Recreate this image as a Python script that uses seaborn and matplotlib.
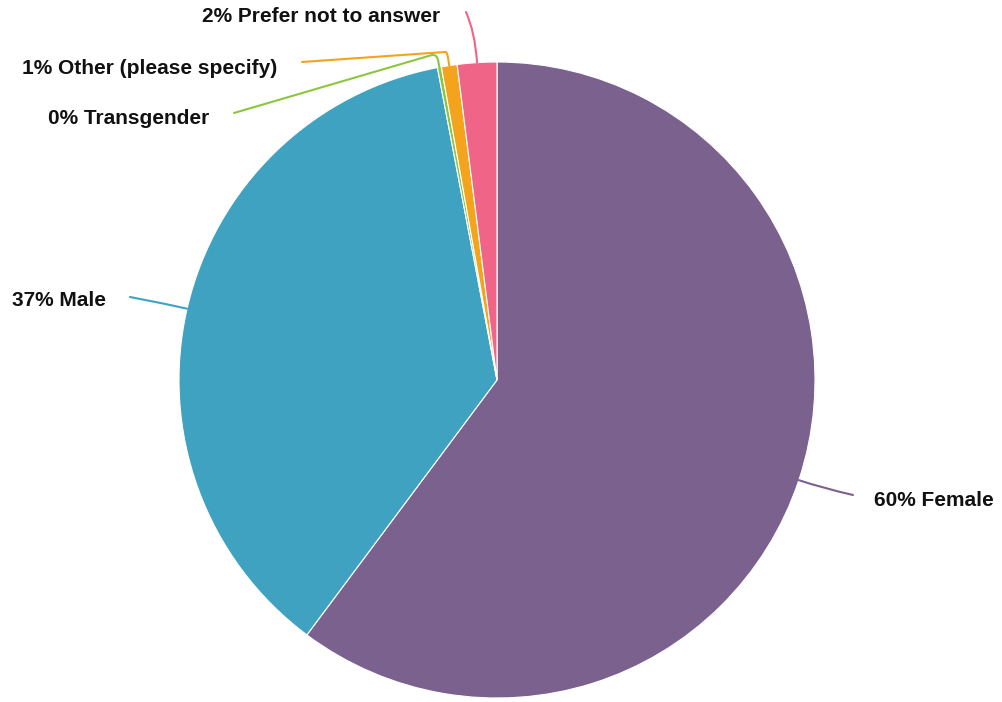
import numpy as np
import matplotlib
matplotlib.use("Agg")
import matplotlib.pyplot as plt
from matplotlib.path import Path
from matplotlib.patches import PathPatch
import seaborn as sns

# slice data (clockwise from 12 o'clock)
categories = ["Female", "Male", "Transgender", "Other (please specify)", "Prefer not to answer"]
shares = [60.2, 36.8, 0.2, 0.8, 2.0]
shown_pct = [60, 37, 0, 1, 2]
colors = ["#7b618e", "#40a2c1", "#8cc63e", "#f4a31c", "#ef6487"]

sns.set_theme(style="white")
plt.rcParams["font.family"] = ["Liberation Sans", "DejaVu Sans"]

fig = plt.figure(figsize=(10.02, 7.02), dpi=100)
ax = fig.add_axes([0, 0, 1, 1])

H = 702
cx, cy, R = 497, H - 380, 318
wedges, _ = ax.pie(shares, colors=colors, startangle=90, counterclock=False,
                   center=(cx, cy), radius=R, frame=True,
                   wedgeprops=dict(edgecolor="white", linewidth=0.8))
ax.set_xlim(0, 1002)
ax.set_ylim(0, 702)
ax.set_aspect("equal")
ax.axis("off")

# label anchors in pixel coords: (line end, text x, text y, ha, radial ext)
label_pos = [
    ((853, 495), 874, 500, "left", 25),
    ((130, 297), 12, 300, "left", 20),
    ((432, 55), 48, 118, "left", 8),
    ((445, 52), 22, 69, "left", 10),
    ((466, 12), 202, 17, "left", 30),
]
line_end_extra = [None, None, (234, 113), (302, 62), None]

for i, w in enumerate(wedges):
    mid = np.deg2rad((w.theta1 + w.theta2) / 2)
    ux, uy = np.cos(mid), np.sin(mid)
    p0 = (cx + R * ux, cy + R * uy)
    (ex, ey), tx, ty, ha, ext = label_pos[i]
    p1 = (cx + (R + ext) * ux, cy + (R + ext) * uy)
    end = (ex, H - ey)
    if line_end_extra[i] is None:
        verts = [p0, p1, end]
        codes = [Path.MOVETO, Path.CURVE3, Path.CURVE3]
    else:
        fx, fy = line_end_extra[i]
        corner = (cx + (R + ext * 0.6) * ux, cy + (R + ext * 0.6) * uy)
        verts = [p0, corner, (corner[0] - 1, H - ey + 1), end, (fx, H - fy)]
        codes = [Path.MOVETO, Path.LINETO, Path.CURVE3, Path.CURVE3, Path.LINETO]
    ax.add_patch(PathPatch(Path(verts, codes), fill=False, edgecolor=colors[i],
                           linewidth=1.5, capstyle="round"))
    ax.text(tx, H - ty, f"{shown_pct[i]}% {categories[i]}", ha=ha, va="center",
            fontsize=15, fontweight="bold", color="#111111")

fig.savefig("out.png", dpi=100)
